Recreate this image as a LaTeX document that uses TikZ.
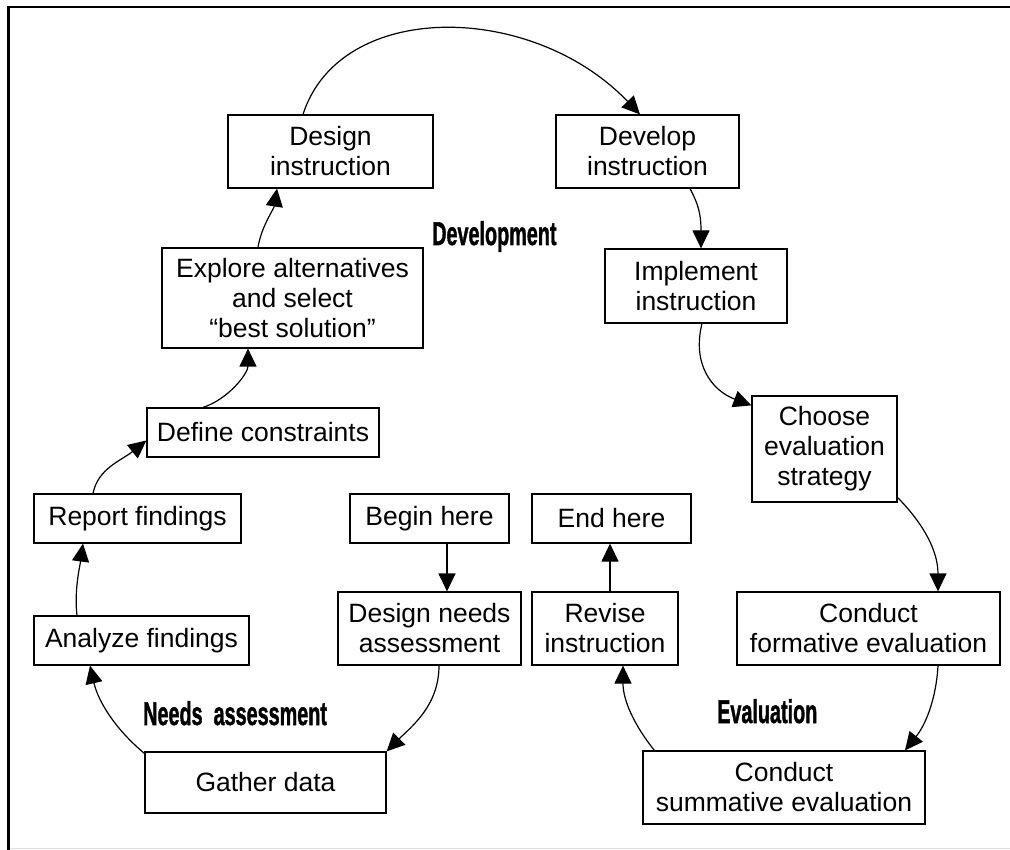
\documentclass[tikz,border=0pt]{standalone}
\usepackage{fontspec}
\setmainfont{Liberation Sans}
\newfontfamily\labfont[FakeBold=1.6]{Liberation Sans Bold}
\usetikzlibrary{arrows.meta}
\begin{document}
\begin{tikzpicture}[x=1pt,y=-1pt,
  box/.style={draw,line width=1.2pt,rectangle,inner sep=0pt,align=center,font=\fontsize{26.5}{30}\selectfont},
  arr/.style={line width=1.2pt,-{Triangle[length=18pt,width=17pt]}},
  lab/.style={inner sep=0pt,anchor=base west,font=\fontsize{33}{33}\selectfont\labfont}]
\useasboundingbox (0,0) rectangle (1010,850);
% frame
\draw[line width=1pt,black!12] (8,848.5) -- (1010,848.5);
\draw[line width=2.5pt] (8.3,850) -- (8.3,7) -- (1010,7);

% boxes
\node[box,minimum width=205pt,minimum height=73pt] (di) at (330.5,151.5) {Design\\instruction};
\node[box,minimum width=183pt,minimum height=73pt] (dv) at (647.5,151.5) {Develop\\instruction};
\node[box,minimum width=182pt,minimum height=74pt] (im) at (696,286) {Implement\\instruction};
\node[box,minimum width=145pt,minimum height=106pt] (ch) at (824.5,449) {Choose\\evaluation\\strategy};
\node[box,minimum width=263pt,minimum height=73pt] (fe) at (868.5,628.5) {Conduct\\formative evaluation};
\node[box,minimum width=282pt,minimum height=73pt] (se) at (784,787.5) {Conduct\\summative evaluation};
\node[box,minimum width=146pt,minimum height=73pt] (ri) at (605,628.5) {Revise\\instruction};
\node[box,minimum width=159pt,minimum height=49pt] (eh) at (611.5,518.5) {End here};
\node[box,minimum width=159pt,minimum height=49pt] (bh) at (429.5,518.5) {Begin here};
\node[box,minimum width=183pt,minimum height=73pt] (dn) at (429.5,628.5) {Design needs\\assessment};
\node[box,minimum width=241pt,minimum height=61pt] (gd) at (265.5,782.5) {Gather data};
\node[box,minimum width=215pt,minimum height=49pt] (af) at (141.5,640.5) {Analyze findings};
\node[box,minimum width=207pt,minimum height=49pt] (rf) at (137.5,518.5) {Report findings};
\node[box,minimum width=232pt,minimum height=49pt] (dc) at (263,432.5) {Define constraints};
\node[box,minimum width=261pt,minimum height=100pt] (ex) at (292.5,298) {Explore alternatives\\and select\\“best solution”};

% section labels
\node[lab] (ldev) at (432,245) {\scalebox{0.6}[1]{Development}};
\node[lab] (lneeds) at (143,725) {\scalebox{0.6}[1]{Needs\ \ assessment}};
\node[lab] (leval) at (717,723) {\scalebox{0.6}[1]{Evaluation}};

% connectors
\draw[arr] ([xshift=-27.5pt]di.north) .. controls +(37,-115) and +(-108,-113) .. ([xshift=-7.5pt]dv.north);
\draw[arr] ([xshift=42.5pt]dv.south) .. controls +(8,15) and +(0,-35) .. ([xshift=5pt]im.north);
\draw[arr] ([xshift=6pt]im.south) .. controls +(-10,40) and +(-40,-15) .. ([yshift=-10pt]ch.north west);
\draw[arr] ([yshift=5pt]ch.south east) .. controls +(20,20) and +(0,-45) .. ([xshift=69.5pt]fe.north);
\draw[arr] ([xshift=69.5pt]fe.south) .. controls +(-2,35) and +(20,-25) .. ([xshift=121pt]se.north);
\draw[arr] ([xshift=12pt]se.north west) .. controls +(-20,-25) and +(0,35) .. ([xshift=18pt]ri.south);
\draw[arr] ([xshift=5pt]ri.north) -- ([xshift=5pt]ri.north |- eh.south);
\draw[arr] ([xshift=17.5pt]bh.south) -- ([xshift=17.5pt]bh.south |- dn.north);
\draw[arr] ([xshift=9.5pt]dn.south) .. controls +(0,40) and +(25,-25) .. (gd.north east);
\draw[arr] ([yshift=-2pt]gd.north west) .. controls +(-30,-25) and +(8,35) .. ([xshift=-51.5pt]af.south);
\draw[arr] ([xshift=-64.5pt]af.north) .. controls +(-3,-25) and +(-3,22) .. ([xshift=-54.5pt]rf.south);
\draw[arr] ([xshift=-44.5pt]rf.north) .. controls +(5,-25) and +(-25,20) .. ([yshift=-8pt]dc.west);
\draw[arr] ([xshift=-60pt]dc.north) .. controls +(25,-8) and +(0,25) .. ([xshift=-44.5pt]ex.south);
\draw[arr] ([xshift=-34.5pt]ex.north) .. controls +(3,-20) and +(-3,20) .. ([xshift=-53.5pt]di.south);
\end{tikzpicture}
\end{document}
